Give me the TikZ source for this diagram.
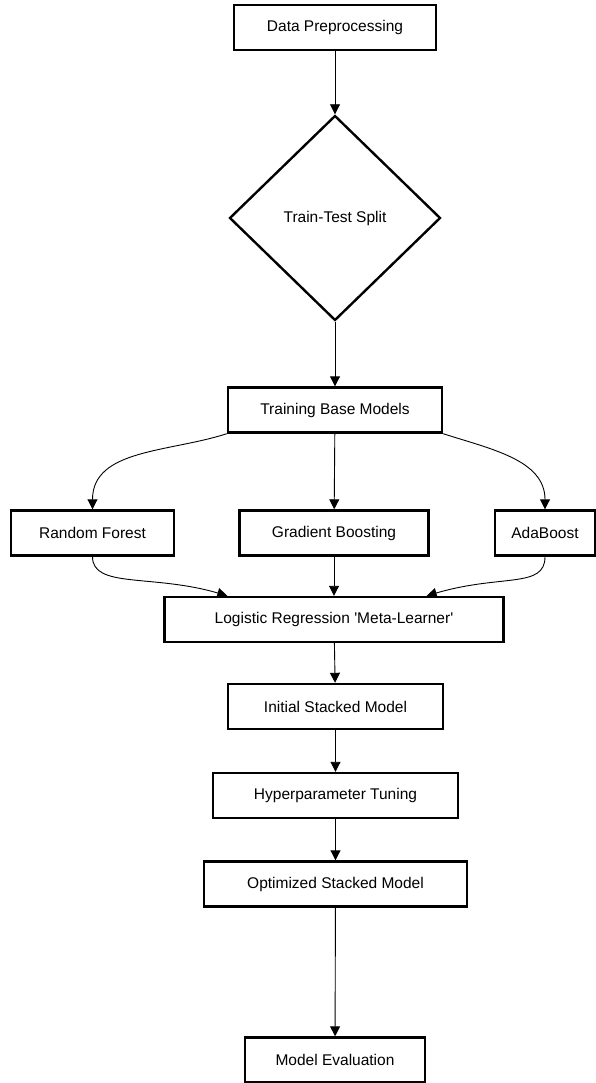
\documentclass[tikz,border=0pt]{standalone}
\usepackage{fontspec}
\setmainfont{Liberation Sans}
\usetikzlibrary{shapes.geometric,arrows.meta}
\begin{document}
\begin{tikzpicture}[x=1pt,y=-1pt,>={Triangle[length=10pt,width=10pt]},
	stage/.style={draw,line width=2.4pt,minimum height=45pt,inner sep=0pt,
		font=\fontsize{15.5}{18}\selectfont},
	flow/.style={->,line width=0.9pt}]
	
	\useasboundingbox (0,0) rectangle (596,1083);
	
	% The pipeline
	\node[stage,minimum width=202pt] (prep) at (335,27.5) {Data Preprocessing};
	\node[stage,diamond,aspect=1,minimum width=211pt,minimum height=205pt] (split) at (335,218) {Train-Test Split};
	\node[stage,minimum width=214pt] (train) at (335,410) {Training Base Models};
	
	% The base models
	\node[stage,minimum width=163pt] (rf) at (92.5,533) {Random Forest};
	\node[stage,minimum width=189pt] (gb) at (334,533) {Gradient Boosting};
	\node[stage,minimum width=100pt] (ada) at (545,533) {AdaBoost};
	
	% Stacking and tuning
	\node[stage,minimum width=339pt] (meta) at (334,619.5) {Logistic Regression \textquotesingle Meta-Learner\textquotesingle};
	\node[stage,minimum width=215pt] (init) at (335.5,706.5) {Initial Stacked Model};
	\node[stage,minimum width=245pt] (tune) at (335.5,795.5) {Hyperparameter Tuning};
	\node[stage,minimum width=263pt] (opt) at (335.5,884) {Optimized Stacked Model};
	\node[stage,minimum width=180pt] (eval) at (335,1060) {Model Evaluation};
	
	% The arrows
	\draw[flow] (prep) -- (split);
	\draw[flow] (split) -- (train);
	\draw[flow] (train.south west) to[out=-162,in=90] (rf.north);
	\draw[flow] (train) -- (gb);
	\draw[flow] (train.south east) to[out=-18,in=90] (ada.north);
	\draw[flow] (rf.south) .. controls +(0,32) and +(-75,-22) .. ([xshift=64pt]meta.north west);
	\draw[flow] (gb) -- (meta);
	\draw[flow] (ada.south) .. controls +(0,32) and +(75,-22) .. ([xshift=-78pt]meta.north east);
	\draw[flow] (meta) -- (init);
	\draw[flow] (init) -- (tune);
	\draw[flow] (tune) -- (opt);
	\draw[flow] (opt) -- (eval);
	
\end{tikzpicture}
\end{document}
